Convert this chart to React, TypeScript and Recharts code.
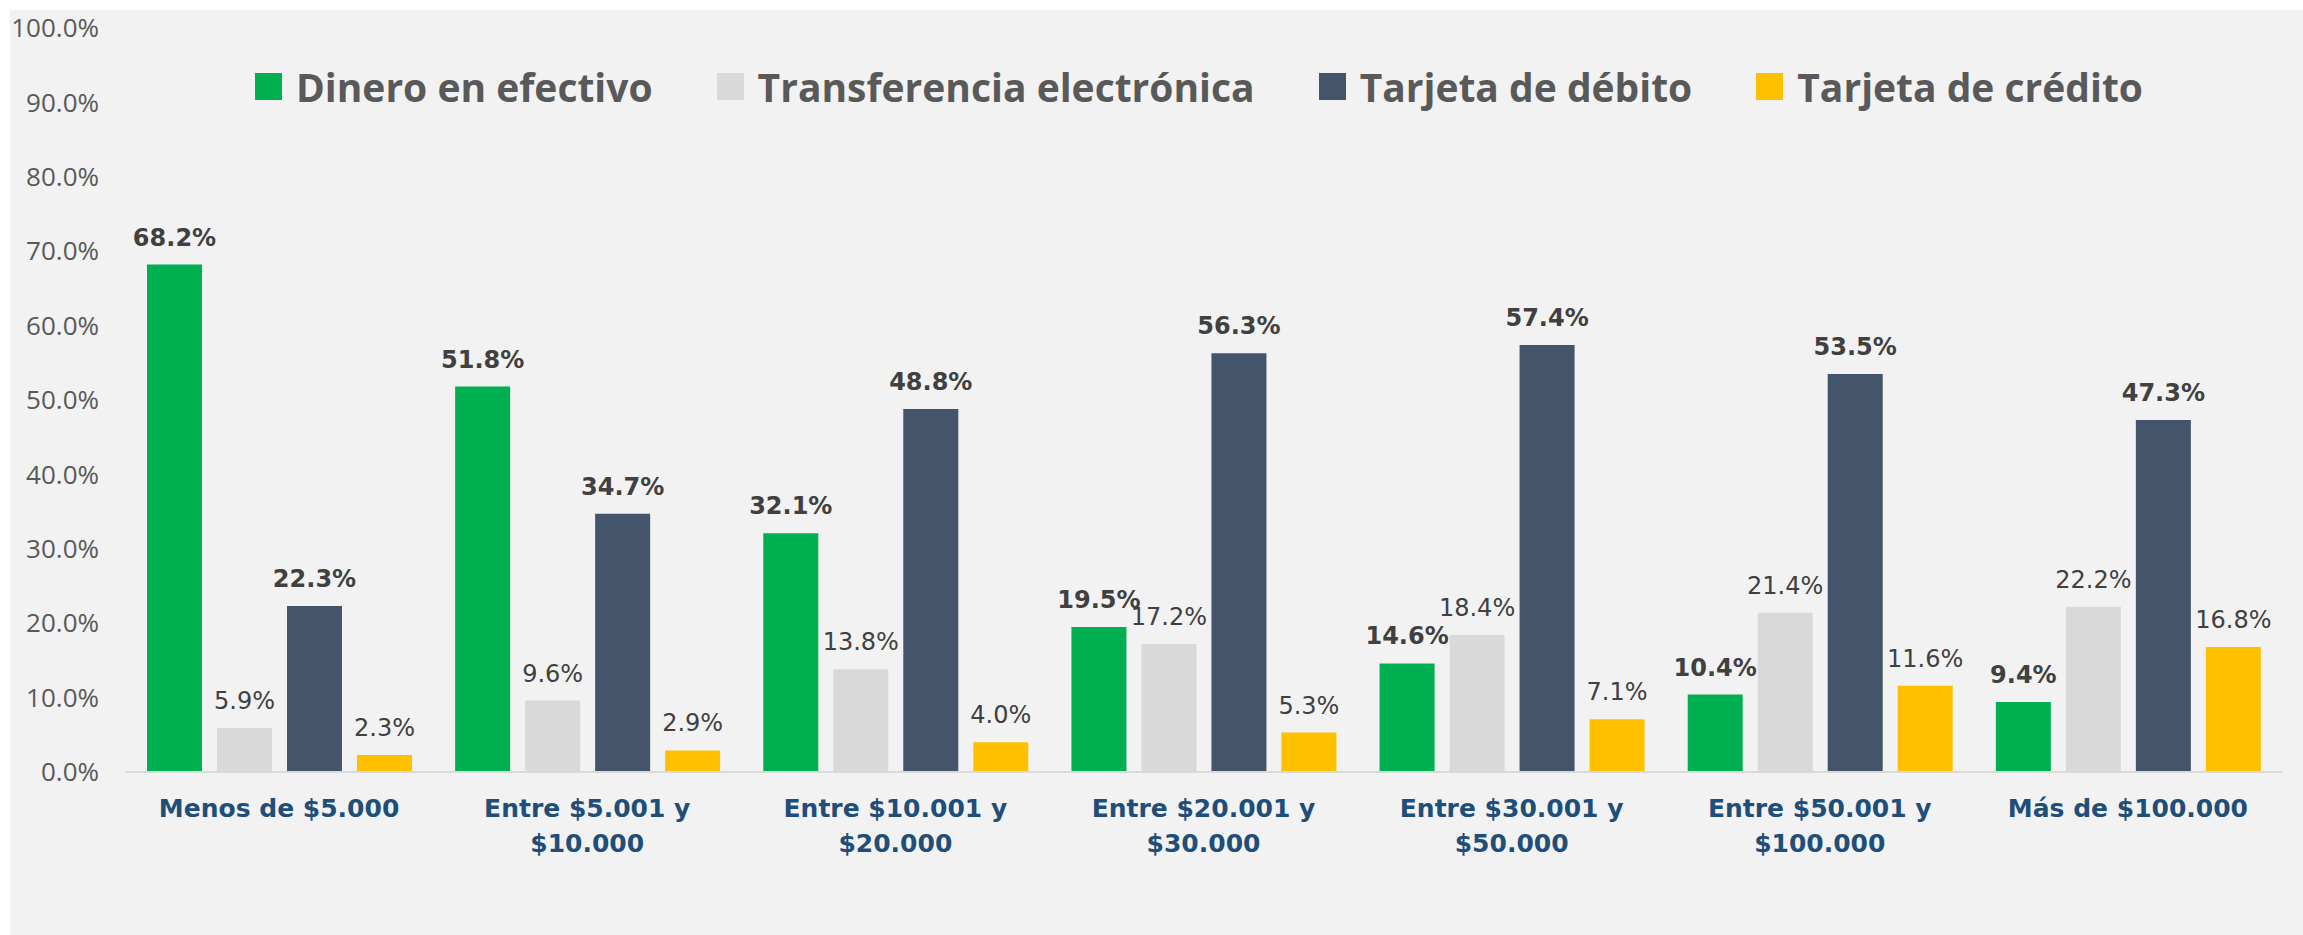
import { BarChart, Bar, XAxis, YAxis, Legend, LabelList } from "recharts";

const categories = [
  "Menos de $5.000",
  "Entre $5.001 y\n$10.000",
  "Entre $10.001 y\n$20.000",
  "Entre $20.001 y\n$30.000",
  "Entre $30.001 y\n$50.000",
  "Entre $50.001 y\n$100.000",
  "Más de $100.000",
];

const seriesNames = [
  "Dinero en efectivo",
  "Transferencia electrónica",
  "Tarjeta de débito",
  "Tarjeta de crédito",
];

const efectivo = [68.2, 51.8, 32.1, 19.5, 14.6, 10.4, 9.4];
const transferencia = [5.9, 9.6, 13.8, 17.2, 18.4, 21.4, 22.2];
const debito = [22.3, 34.7, 48.8, 56.3, 57.4, 53.5, 47.3];
const credito = [2.3, 2.9, 4.0, 5.3, 7.1, 11.6, 16.8];

const yTicks = [0, 10, 20, 30, 40, 50, 60, 70, 80, 90, 100];

const data = categories.map((name, i) => ({
  name,
  efectivo: efectivo[i],
  transferencia: transferencia[i],
  debito: debito[i],
  credito: credito[i],
}));

const pct = (v: any) => `${Number(v).toFixed(1)}%`;

const CategoryTick = ({ x, y, payload }: any) => {
  const lines = String(payload.value).split("\n");
  return (
    <text
      x={x}
      y={y}
      textAnchor="middle"
      fill="#1F4E79"
      fontFamily="DejaVu Sans"
      fontWeight="bold"
      fontSize={25}
    >
      {lines.map((line, i) => (
        <tspan key={i} x={x} dy={i === 0 ? 37 : 35}>
          {line}
        </tspan>
      ))}
    </text>
  );
};

// keep the legend in series order (recharts sorts it by name otherwise)
const TopLegend = ({ payload }: any) => {
  const items = [...(payload || [])].sort(
    (a: any, b: any) => seriesNames.indexOf(a.value) - seriesNames.indexOf(b.value)
  );
  return (
    <div
      style={{
        display: "flex",
        justifyContent: "center",
        gap: 64,
        fontFamily: "'Open Sans', sans-serif",
        fontWeight: 700,
        fontSize: 39,
        color: "#595959",
        paddingLeft: 85,
      }}
    >
      {items.map((item: any) => (
        <div key={item.value} style={{ display: "flex", alignItems: "center", gap: 14 }}>
          <span style={{ width: 27, height: 27, background: item.color, display: "inline-block" }} />
          <span>{item.value}</span>
        </div>
      ))}
    </div>
  );
};

const labelBold = { fill: "#404040", fontFamily: "DejaVu Sans", fontSize: 24, fontWeight: "bold" };
const labelNormal = { fill: "#404040", fontFamily: "DejaVu Sans", fontSize: 24, fontWeight: "normal" };

export default function App() {
  return (
    <div
      style={{
        position: "absolute",
        left: 10,
        top: 10,
        width: 2293,
        height: 925,
        background: "#f2f2f2",
      }}
    >
      <BarChart
        width={2293}
        height={925}
        data={data}
        margin={{ top: 18, right: 21, left: 0, bottom: 103 }}
        barSize={55}
        barGap={15}
      >
        <XAxis
          dataKey="name"
          interval={0}
          height={60}
          tickLine={false}
          axisLine={{ stroke: "#d9d9d9", strokeWidth: 2 }}
          tick={<CategoryTick />}
        />
        <YAxis
          domain={[0, 100]}
          ticks={yTicks}
          width={115}
          axisLine={false}
          tickLine={false}
          tickMargin={20}
          tickFormatter={pct}
          tick={{ fill: "#595959", fontSize: 26, fontFamily: "'Open Sans', sans-serif" }}
        />
        <Legend
          layout="horizontal"
          verticalAlign="middle"
          align="center"
          wrapperStyle={{ top: 50, left: 0, width: 2293 }}
          content={<TopLegend />}
        />
        <Bar dataKey="efectivo" name={seriesNames[0]} fill="#00B050" isAnimationActive={false}>
          <LabelList dataKey="efectivo" position="top" offset={19} formatter={pct} {...labelBold} />
        </Bar>
        <Bar dataKey="transferencia" name={seriesNames[1]} fill="#D9D9D9" isAnimationActive={false}>
          <LabelList dataKey="transferencia" position="top" offset={19} formatter={pct} {...labelNormal} />
        </Bar>
        <Bar dataKey="debito" name={seriesNames[2]} fill="#44546A" isAnimationActive={false}>
          <LabelList dataKey="debito" position="top" offset={19} formatter={pct} {...labelBold} />
        </Bar>
        <Bar dataKey="credito" name={seriesNames[3]} fill="#FFC000" isAnimationActive={false}>
          <LabelList dataKey="credito" position="top" offset={19} formatter={pct} {...labelNormal} />
        </Bar>
      </BarChart>
    </div>
  );
}
